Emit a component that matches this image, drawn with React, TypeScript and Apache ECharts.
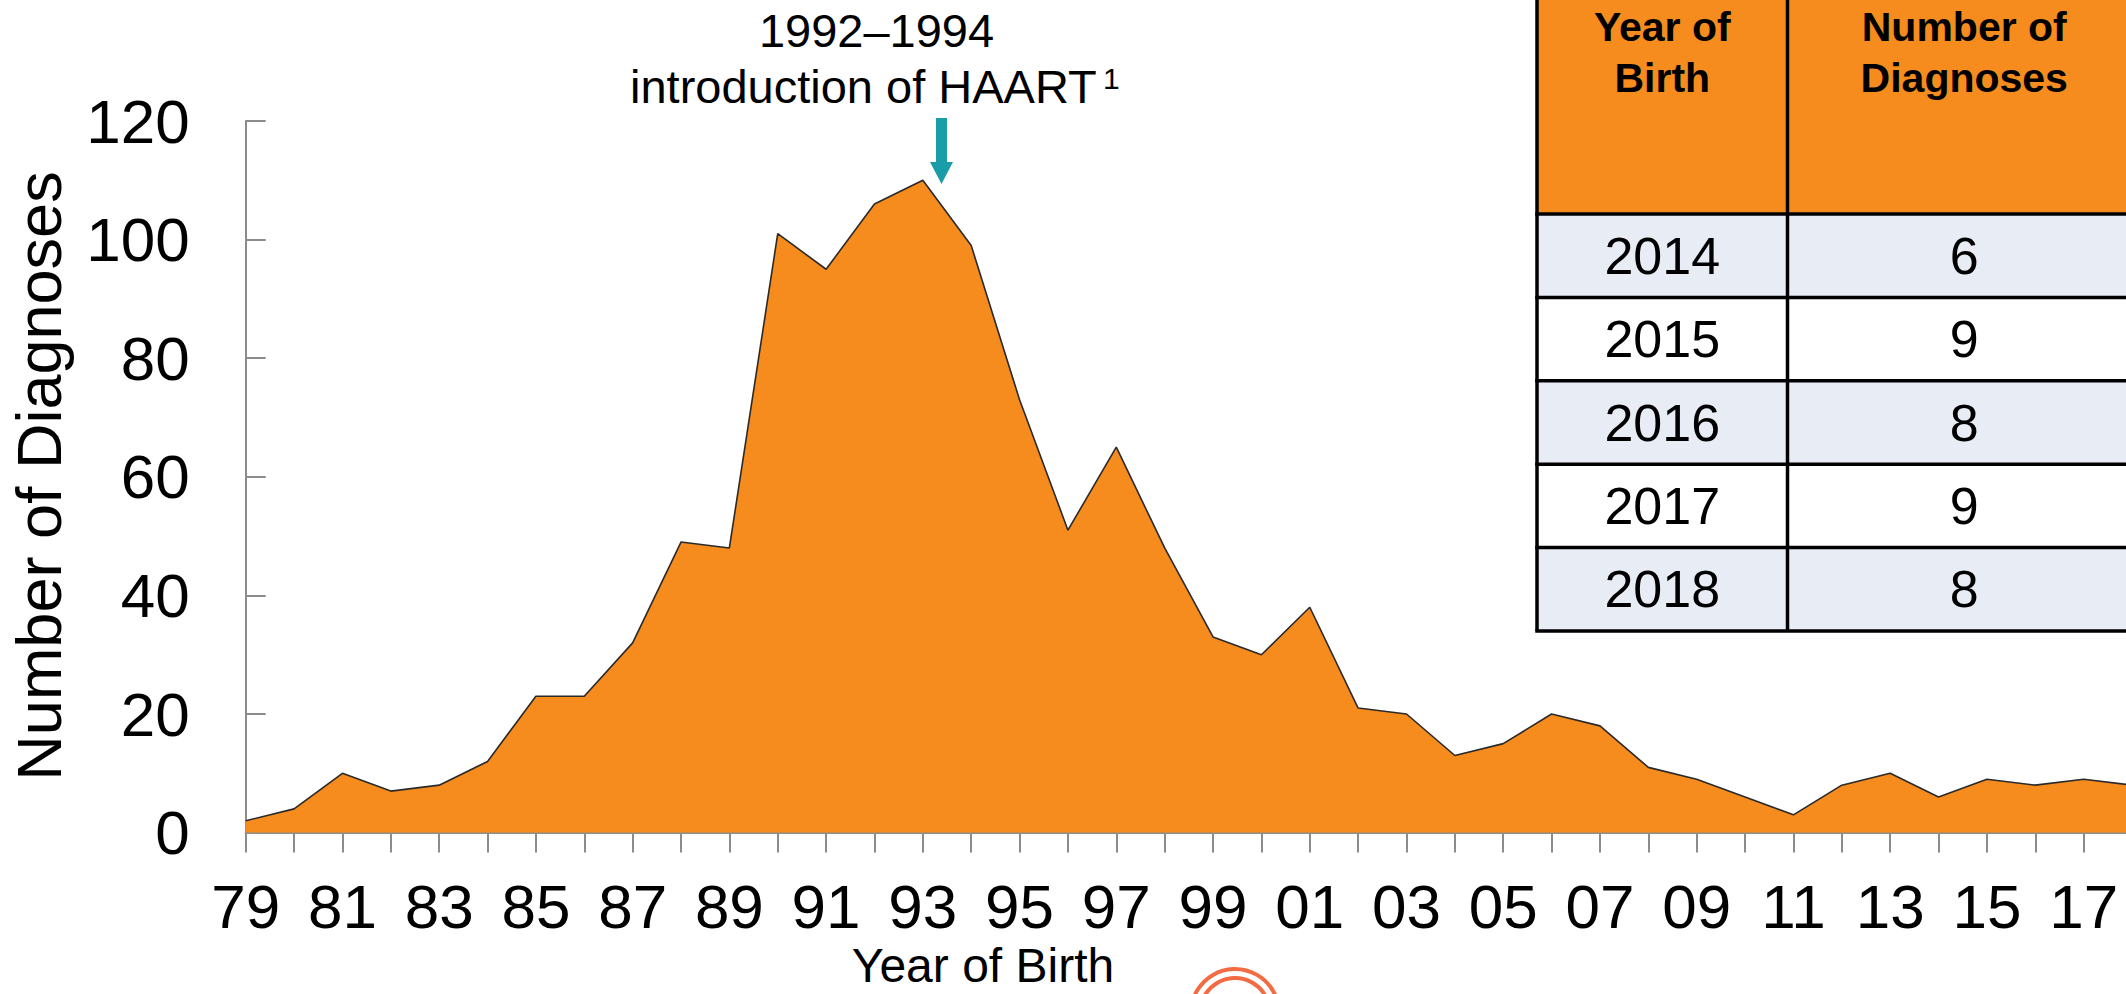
import React, { useEffect, useRef } from 'react';
import * as echarts from 'echarts';

// ---- data ----
const yearLabels = [
  '79', '80', '81', '82', '83', '84', '85', '86', '87', '88',
  '89', '90', '91', '92', '93', '94', '95', '96', '97', '98',
  '99', '00', '01', '02', '03', '04', '05', '06', '07', '08',
  '09', '10', '11', '12', '13', '14', '15', '16', '17', '18',
];
const diagnoses = [
  2, 4, 10, 7, 8, 12, 23, 23, 32, 49,
  48, 101, 95, 106, 110, 99, 73, 51, 65, 48,
  33, 30, 38, 21, 20, 13, 15, 20, 18, 11,
  9, 6, 3, 8, 10, 6, 9, 8, 9, 8,
];
const yMin = 0;
const yMax = 120;
const yInterval = 20;

const tableHeaders = ['Year of\nBirth', 'Number of\nDiagnoses'];
const tableYears = ['2014', '2015', '2016', '2017', '2018'];
const tableCounts = ['6', '9', '8', '9', '8'];

const annotationLine1 = '1992\u20131994';
const annotationLine2 = 'introduction of HAART';
const annotationSup = '1';
const yTitle = 'Number of Diagnoses';
const xTitle = 'Year of Birth';

const FONT = '"Liberation Sans", Arial, Helvetica, sans-serif';
const ORANGE = '#F68B1E';
const TEAL = '#1A9DA8';
const AXIS_GRAY = '#8C8C8C';

function buildTable(): any[] {
  const els: any[] = [];
  const x0 = 1537;
  const x1 = 1787.5;
  const x2 = 2141;
  const headTop = -6;
  const headBottom = 214;
  const rowH = 83.4;
  const bw = 3.5;
  // header background
  els.push({ type: 'rect', shape: { x: x0, y: headTop, width: x2 - x0, height: headBottom - headTop }, style: { fill: ORANGE }, z: 50 });
  // body rows
  tableYears.forEach((_, i) => {
    els.push({
      type: 'rect',
      shape: { x: x0, y: headBottom + i * rowH, width: x2 - x0, height: rowH },
      style: { fill: i % 2 === 0 ? '#E8ECF5' : '#FFFFFF' },
      z: 50,
    });
  });
  const bottom = headBottom + tableYears.length * rowH;
  // grid lines
  const lineStyle = { stroke: '#000', lineWidth: bw };
  els.push({ type: 'line', shape: { x1: x0, y1: headTop, x2: x0, y2: bottom }, style: lineStyle, z: 52 });
  els.push({ type: 'line', shape: { x1: x1, y1: headTop, x2: x1, y2: bottom }, style: lineStyle, z: 52 });
  els.push({ type: 'line', shape: { x1: x2, y1: headTop, x2: x2, y2: bottom }, style: lineStyle, z: 52 });
  for (let i = 0; i <= tableYears.length; i++) {
    const y = headBottom + i * rowH;
    els.push({ type: 'line', shape: { x1: x0 - bw / 2, y1: y, x2: x2 + bw / 2, y2: y }, style: lineStyle, z: 52 });
  }
  // header texts
  const c0 = (x0 + x1) / 2;
  const c1 = (x1 + x2) / 2;
  [c0, c1].forEach((cx, k) => {
    const lines = tableHeaders[k].split('\n');
    lines.forEach((t, j) => {
      els.push({
        type: 'text', x: cx, y: 27 + j * 50.5, z: 53,
        style: { text: t, fill: '#000', fontSize: 41, fontWeight: 'bold', fontFamily: FONT, align: 'center', verticalAlign: 'middle' },
      });
    });
  });
  // body texts
  tableYears.forEach((yr, i) => {
    const cy = headBottom + i * rowH + rowH / 2;
    els.push({ type: 'text', x: c0, y: cy, z: 53, style: { text: yr, fill: '#000', fontSize: 52, fontFamily: FONT, align: 'center', verticalAlign: 'middle' } });
    els.push({ type: 'text', x: c1, y: cy, z: 53, style: { text: tableCounts[i], fill: '#000', fontSize: 52, fontFamily: FONT, align: 'center', verticalAlign: 'middle' } });
  });
  return els;
}

export default function App() {
  const ref = useRef<HTMLDivElement>(null);

  useEffect(() => {
    if (!ref.current) return;
    const chart = echarts.init(ref.current, undefined, { renderer: 'svg' });

    const option: any = {
      animation: false,
      backgroundColor: '#FFFFFF',
      grid: {
        left: 245.7,
        top: 121,
        right: -6,
        bottom: 161.4,
        containLabel: false,
        outerBoundsMode: 'none',
      },
      xAxis: {
        type: 'category',
        data: yearLabels,
        boundaryGap: false,
        axisLine: { show: true, lineStyle: { color: AXIS_GRAY, width: 2 } },
        axisTick: { show: true, interval: 0, length: 20, lineStyle: { color: AXIS_GRAY, width: 2 } },
        axisLabel: { interval: 1, margin: 43, color: '#000', fontSize: 62, fontFamily: FONT },
        splitLine: { show: false },
      },
      yAxis: {
        type: 'value',
        min: yMin,
        max: yMax,
        interval: yInterval,
        axisLine: { show: true, lineStyle: { color: AXIS_GRAY, width: 2 } },
        axisTick: { show: true, inside: true, length: 20, lineStyle: { color: AXIS_GRAY, width: 2 } },
        axisLabel: { margin: 56, color: '#000', fontSize: 62, fontFamily: FONT },
        splitLine: { show: false },
      },
      series: [
        {
          type: 'line',
          data: diagnoses,
          symbol: 'none',
          lineStyle: { color: '#2a2a2a', width: 1.6 },
          areaStyle: { color: ORANGE, opacity: 1 },
          z: 3,
        },
      ],
      graphic: [
        // y-axis title
        {
          type: 'text', x: 39, y: 476, rotation: Math.PI / 2, z: 60,
          style: { text: yTitle, fill: '#000', fontSize: 63, fontFamily: FONT, align: 'center', verticalAlign: 'middle' },
        },
        // x-axis title
        {
          type: 'text', x: 983, y: 965, z: 60,
          style: { text: xTitle, fill: '#000', fontSize: 48, lineHeight: 40, fontFamily: FONT, align: 'center', verticalAlign: 'middle' },
        },
        // annotation
        {
          type: 'text', x: 876.5, y: 30, z: 60,
          style: { text: annotationLine1, fill: '#000', fontSize: 47, fontFamily: FONT, align: 'center', verticalAlign: 'middle' },
        },
        {
          type: 'text', x: 630, y: 86, z: 60,
          style: { text: annotationLine2, fill: '#000', fontSize: 47, fontFamily: FONT, align: 'left', verticalAlign: 'middle' },
        },
        {
          type: 'text', x: 1103, y: 78, z: 60,
          style: { text: annotationSup, fill: '#000', fontSize: 30, fontFamily: FONT, align: 'left', verticalAlign: 'middle' },
        },
        // arrow
        {
          type: 'polygon', z: 60,
          shape: { points: [[936, 118], [947, 118], [947, 162], [953, 162], [941.5, 184], [930, 162], [936, 162]] },
          style: { fill: TEAL },
        },
        // logo rings
        {
          type: 'circle', z: 60,
          shape: { cx: 1235, cy: 1013, r: 44 },
          style: { fill: 'none', stroke: '#F26B43', lineWidth: 4 },
        },
        {
          type: 'circle', z: 60,
          shape: { cx: 1235, cy: 1013, r: 35 },
          style: { fill: 'none', stroke: '#F26B43', lineWidth: 4 },
        },
        ...buildTable(),
      ],
    };

    chart.setOption(option);
    return () => {
      chart.dispose();
    };
  }, []);

  return (
    <div
      ref={ref}
      style={{ position: 'fixed', left: 0, top: 0, width: 2126, height: 994, overflow: 'hidden', background: '#fff' }}
    />
  );
}
